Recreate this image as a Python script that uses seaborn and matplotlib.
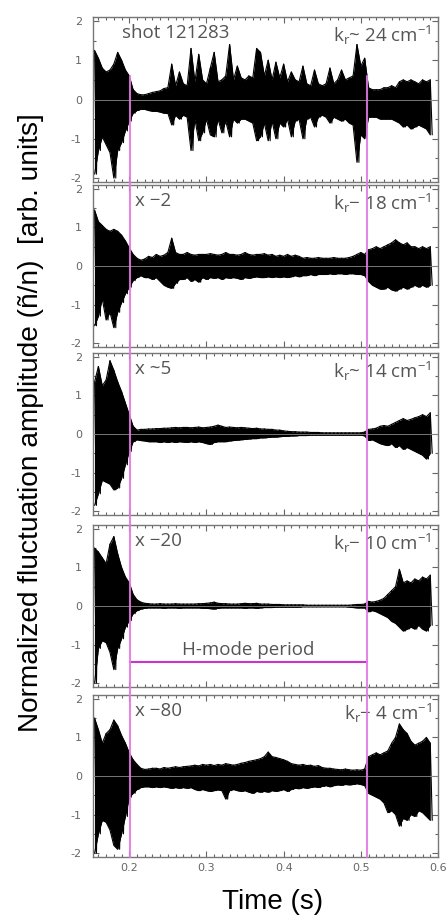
import numpy as np
import pandas as pd
import matplotlib
matplotlib.use("Agg")
import matplotlib.pyplot as plt
from matplotlib.lines import Line2D
from matplotlib.ticker import MultipleLocator
import seaborn as sns

# envelope of each reflectometer channel, every 5 ms from 0.155 s
t_start = 0.155
t_step = 0.005

upper_24 = [1.25, 1.05, 0.8, 0.7, 0.75, 0.9, 1.2, 1.0,
            0.75, 0.6, 0.25, 0.15, 0.12, 0.12, 0.15, 0.18,
            0.2, 0.22, 0.28, 0.3, 0.9, 0.35, 0.7, 0.4,
            0.35, 1.3, 0.45, 1.15, 0.5, 0.4, 0.8, 1.2,
            0.45, 0.5, 0.6, 1.4, 0.5, 0.85, 0.55, 0.5,
            0.6, 0.55, 1.3, 1.2, 0.6, 1.0, 0.5, 0.95,
            0.55, 0.9, 0.45, 0.7, 0.5, 0.45, 0.85, 0.4,
            0.35, 0.75, 0.4, 0.35, 0.4, 0.8, 0.4, 0.5,
            0.75, 0.5, 0.55, 0.6, 1.4, 0.85, 1.05, 0.3,
            0.25, 0.25, 0.25, 0.3, 0.3, 0.35, 0.3, 0.45,
            0.5, 0.45, 0.5, 0.45, 0.4, 0.5, 0.45, 0.5]
lower_24 = [-1.9, -1.3, -0.95, -1.15, -1.35, -2.0, -1.3, -1.1,
            -0.8, -0.55, -0.35, -0.28, -0.25, -0.25, -0.28, -0.3,
            -0.3, -0.32, -0.35, -0.35, -0.65, -0.4, -0.5, -0.4,
            -0.45, -1.3, -0.5, -1.05, -0.85, -0.5, -0.9, -0.95,
            -0.5, -0.85, -0.55, -0.95, -0.5, -0.6, -0.5, -0.5,
            -0.55, -0.6, -1.05, -0.95, -0.6, -1.05, -0.55, -1.0,
            -0.6, -0.7, -0.5, -0.95, -0.55, -0.5, -1.0, -0.5,
            -0.45, -0.7, -0.45, -0.4, -0.45, -0.6, -0.45, -0.5,
            -0.55, -0.5, -0.6, -0.65, -1.6, -0.9, -1.0, -0.45,
            -0.45, -0.45, -0.5, -0.5, -0.5, -0.5, -0.55, -0.6,
            -0.7, -0.65, -0.75, -0.7, -0.65, -0.7, -0.75, -0.9]

upper_18 = [1.45, 1.15, 1.05, 0.95, 0.9, 0.95, 0.9, 0.8,
            0.65, 0.47, 0.3, 0.2, 0.15, 0.18, 0.25, 0.22,
            0.3, 0.25, 0.28, 0.35, 0.72, 0.35, 0.3, 0.3,
            0.35, 0.3, 0.28, 0.3, 0.3, 0.3, 0.32, 0.3,
            0.28, 0.3, 0.35, 0.3, 0.3, 0.28, 0.3, 0.35,
            0.3, 0.28, 0.3, 0.3, 0.32, 0.28, 0.3, 0.25,
            0.28, 0.25, 0.3, 0.25, 0.28, 0.25, 0.2, 0.22,
            0.2, 0.2, 0.22, 0.2, 0.2, 0.2, 0.22, 0.2,
            0.2, 0.2, 0.22, 0.25, 0.3, 0.35, 0.3, 0.42,
            0.45, 0.5, 0.45, 0.5, 0.55, 0.6, 0.68, 0.6,
            0.55, 0.6, 0.5, 0.5, 0.45, 0.5, 0.45, 0.5]
lower_18 = [-1.55, -1.3, -0.85, -1.4, -1.2, -1.6, -1.2, -0.95,
            -0.72, -0.55, -0.38, -0.3, -0.25, -0.3, -0.3, -0.35,
            -0.3, -0.4, -0.5, -0.55, -0.58, -0.45, -0.35, -0.35,
            -0.3, -0.4, -0.35, -0.42, -0.3, -0.35, -0.3, -0.32,
            -0.3, -0.35, -0.3, -0.32, -0.3, -0.32, -0.35, -0.3,
            -0.32, -0.3, -0.28, -0.3, -0.3, -0.28, -0.3, -0.28,
            -0.3, -0.28, -0.3, -0.28, -0.25, -0.28, -0.25, -0.25,
            -0.22, -0.25, -0.22, -0.22, -0.22, -0.2, -0.22, -0.2,
            -0.2, -0.22, -0.2, -0.2, -0.22, -0.22, -0.25, -0.4,
            -0.5, -0.55, -0.6, -0.6, -0.55, -0.62, -0.65, -0.6,
            -0.55, -0.6, -0.55, -0.5, -0.55, -0.5, -0.55, -0.5]

upper_14 = [1.35, 1.75, 1.25, 1.4, 1.9, 1.65, 1.35, 1.1,
            0.8, 0.5, 0.2, 0.1, 0.12, 0.12, 0.13, 0.13,
            0.14, 0.14, 0.15, 0.15, 0.16, 0.17, 0.16, 0.17,
            0.17, 0.16, 0.17, 0.18, 0.16, 0.17, 0.18, 0.2,
            0.23, 0.2, 0.17, 0.18, 0.17, 0.16, 0.17, 0.16,
            0.15, 0.14, 0.15, 0.13, 0.13, 0.12, 0.12, 0.1,
            0.1, 0.08, 0.07, 0.06, 0.06, 0.05, 0.05, 0.05,
            0.04, 0.04, 0.04, 0.03, 0.03, 0.03, 0.03, 0.03,
            0.03, 0.03, 0.03, 0.03, 0.03, 0.03, 0.05, 0.12,
            0.13, 0.15, 0.2, 0.22, 0.2, 0.25, 0.3, 0.35,
            0.4, 0.35, 0.38, 0.42, 0.45, 0.5, 0.45, 0.55]
lower_14 = [-1.85, -1.55, -1.2, -1.25, -1.3, -1.45, -1.4, -1.15,
            -0.8, -0.45, -0.2, -0.15, -0.17, -0.18, -0.2, -0.2,
            -0.2, -0.22, -0.2, -0.22, -0.2, -0.22, -0.2, -0.21,
            -0.22, -0.2, -0.22, -0.2, -0.22, -0.25, -0.27, -0.22,
            -0.2, -0.2, -0.2, -0.18, -0.17, -0.16, -0.15, -0.14,
            -0.13, -0.12, -0.12, -0.1, -0.1, -0.09, -0.08, -0.08,
            -0.07, -0.06, -0.06, -0.05, -0.05, -0.04, -0.04, -0.04,
            -0.03, -0.03, -0.03, -0.03, -0.03, -0.03, -0.03, -0.03,
            -0.03, -0.03, -0.03, -0.03, -0.03, -0.03, -0.05, -0.17,
            -0.15, -0.2, -0.25, -0.28, -0.3, -0.25, -0.35, -0.3,
            -0.4, -0.35, -0.4, -0.45, -0.5, -0.55, -0.65, -0.5]

upper_10 = [1.5, 1.4, 1.25, 1.1, 1.6, 1.8, 1.35, 1.0,
            0.75, 0.6, 0.3, 0.16, 0.1, 0.07, 0.06, 0.05,
            0.05, 0.06, 0.05, 0.05, 0.05, 0.06, 0.05, 0.05,
            0.05, 0.05, 0.05, 0.06, 0.06, 0.07, 0.08, 0.1,
            0.07, 0.06, 0.06, 0.05, 0.05, 0.05, 0.06, 0.07,
            0.06, 0.06, 0.07, 0.05, 0.05, 0.05, 0.04, 0.04,
            0.04, 0.03, 0.03, 0.03, 0.03, 0.03, 0.03, 0.02,
            0.02, 0.02, 0.02, 0.02, 0.02, 0.02, 0.02, 0.02,
            0.02, 0.02, 0.02, 0.03, 0.04, 0.04, 0.05, 0.12,
            0.1, 0.12, 0.15, 0.2, 0.3, 0.4, 0.5, 0.95,
            0.6, 0.65, 0.6, 0.7, 0.65, 0.75, 0.7, 0.8]
lower_10 = [-2.0, -1.1, -0.9, -0.95, -1.2, -1.65, -1.1, -0.85,
            -0.55, -0.38, -0.2, -0.12, -0.08, -0.06, -0.05, -0.05,
            -0.05, -0.05, -0.06, -0.05, -0.05, -0.05, -0.06, -0.05,
            -0.05, -0.05, -0.05, -0.05, -0.06, -0.06, -0.07, -0.08,
            -0.06, -0.05, -0.05, -0.05, -0.05, -0.05, -0.05, -0.06,
            -0.05, -0.05, -0.06, -0.05, -0.04, -0.04, -0.04, -0.03,
            -0.03, -0.03, -0.03, -0.03, -0.03, -0.03, -0.02, -0.02,
            -0.02, -0.02, -0.02, -0.02, -0.02, -0.02, -0.02, -0.02,
            -0.02, -0.02, -0.03, -0.04, -0.05, -0.05, -0.05, -0.15,
            -0.12, -0.15, -0.2, -0.25, -0.3, -0.4, -0.45, -0.55,
            -0.65, -0.6, -0.55, -0.6, -0.5, -0.6, -0.65, -0.5]

upper_4 = [1.5, 1.2, 0.85, 1.1, 1.2, 1.45, 1.3, 1.05,
           0.85, 0.6, 0.42, 0.3, 0.2, 0.17, 0.18, 0.2,
           0.2, 0.18, 0.22, 0.2, 0.22, 0.24, 0.22, 0.24,
           0.25, 0.26, 0.28, 0.26, 0.3, 0.28, 0.3, 0.27,
           0.3, 0.28, 0.32, 0.3, 0.28, 0.3, 0.33, 0.35,
           0.38, 0.4, 0.42, 0.45, 0.5, 0.62, 0.5, 0.48,
           0.45, 0.42, 0.38, 0.32, 0.3, 0.28, 0.3, 0.27,
           0.28, 0.25, 0.27, 0.22, 0.2, 0.2, 0.18, 0.17,
           0.16, 0.18, 0.16, 0.15, 0.16, 0.15, 0.18, 0.5,
           0.55, 0.6, 0.55, 0.6, 0.65, 0.85, 1.0, 1.35,
           1.2, 1.1, 0.9, 0.8, 0.85, 0.9, 1.0, 0.85]
lower_4 = [-2.0, -1.5, -1.15, -1.2, -1.4, -1.8, -1.9, -1.5,
           -1.05, -0.55, -0.45, -0.35, -0.3, -0.28, -0.28, -0.3,
           -0.28, -0.3, -0.28, -0.3, -0.32, -0.3, -0.32, -0.3,
           -0.32, -0.3, -0.35, -0.38, -0.35, -0.38, -0.4, -0.38,
           -0.36, -0.38, -0.6, -0.38, -0.35, -0.38, -0.4, -0.38,
           -0.42, -0.45, -0.4, -0.42, -0.4, -0.42, -0.38, -0.4,
           -0.38, -0.35, -0.4, -0.35, -0.32, -0.33, -0.3, -0.32,
           -0.3, -0.28, -0.3, -0.27, -0.25, -0.28, -0.25, -0.23,
           -0.24, -0.22, -0.23, -0.22, -0.2, -0.22, -0.25, -0.45,
           -0.5, -0.55, -0.6, -0.7, -0.95, -0.9, -1.0, -1.3,
           -1.1, -1.15, -1.0, -1.05, -0.9, -0.95, -1.05, -1.15]

panel_upper = [upper_24, upper_18, upper_14, upper_10, upper_4]
panel_lower = [lower_24, lower_18, lower_14, lower_10, lower_4]
panel_kr = ["24", "18", "14", "10", "4"]
panel_tag = ["shot 121283", "x \u22122", "x ~5", "x \u221220", "x \u221280"]
kr_sep = ["~", "\u2212", "~", "\u2212", "\u2212"]

h_mode_start = 0.201
h_mode_end = 0.508
x_ticks = [0.2, 0.3, 0.4, 0.5, 0.6]
y_ticks = [-2, -1, 0, 1, 2]

sns.set_style("ticks")
plt.rcParams["font.family"] = ["Liberation Sans", "DejaVu Sans"]
plt.rcParams["mathtext.default"] = "regular"
plt.rcParams["axes.unicode_minus"] = False

W, H = 446, 918
fig = plt.figure(figsize=(W / 100, H / 100), dpi=100)

# panel frames in pixels (top, bottom)
frames = [(17, 182), (185, 347), (353, 515), (525, 687), (695, 857)]
ax_left, ax_right = 93, 438
gray = "#555555"
tag_font = ["Open Sans", "DejaVu Sans"]

axes = []
for i, (top, bot) in enumerate(frames):
    ax = fig.add_axes([ax_left / W, 1 - bot / H, (ax_right - ax_left) / W, (bot - top) / H])
    up = np.asarray(panel_upper[i])
    lo = np.asarray(panel_lower[i])
    assert len(up) == len(lo) == 88
    t = t_start + t_step * np.arange(len(up))
    # signal drawn as a zigzag between its upper and lower envelope, filled solid
    tz = np.empty(2 * len(t))
    yz = np.empty(2 * len(t))
    tz[0::2] = t
    tz[1::2] = t + t_step / 2
    yz[0::2] = up
    yz[1::2] = lo
    df = pd.DataFrame({"time": tz, "amp": yz})
    ax.fill_between(t, lo, up, color="black", lw=0, zorder=2)
    sns.lineplot(data=df, x="time", y="amp", sort=False, estimator=None,
                 color="black", lw=0.8, ax=ax, zorder=2)
    env = pd.DataFrame({"time": t, "upper": up, "lower": lo})
    sns.lineplot(data=env, x="time", y="upper", color="black", lw=0.8, ax=ax, zorder=2)
    sns.lineplot(data=env, x="time", y="lower", color="black", lw=0.8, ax=ax, zorder=2)
    ax.axhline(0, color="#8a8a8a", lw=0.6, zorder=3)

    ax.set_xlim(0.153, 0.6)
    ax.set_ylim(-2.1, 2.1)
    ax.set_xlabel("")
    ax.set_ylabel("")
    ax.set_xticks(x_ticks)
    ax.set_yticks(y_ticks)
    ax.xaxis.set_minor_locator(MultipleLocator(0.01))
    ax.yaxis.set_minor_locator(MultipleLocator(0.5))
    ax.tick_params(which="both", direction="in", top=True, right=True,
                   colors="#666666", labelsize=8, width=0.8)
    ax.tick_params(which="major", length=4)
    ax.tick_params(which="minor", length=2)
    ax.tick_params(axis="y", pad=8)
    ax.tick_params(axis="x", pad=4)
    for lab in ax.get_yticklabels() + ax.get_xticklabels():
        lab.set_family(["DejaVu Sans"])
    if i < 4:
        ax.set_xticklabels([])
    for sp in ax.spines.values():
        sp.set_color("#777777")
        sp.set_linewidth(1.0)

    tag_x = 0.19 if i == 0 else 0.207
    ax.text(tag_x, 1.68, panel_tag[i], ha="left", va="center",
            fontsize=13.5, color=gray, family=tag_font)
    ax.text(0.592, 1.62, "k$_{r}$" + kr_sep[i] + " " + panel_kr[i] + " cm$^{-1}$",
            ha="right", va="center", fontsize=13.5, color=gray, family=tag_font)
    axes.append(ax)

# H-mode marker in the fourth panel
ax4 = axes[3]
ax4.plot([h_mode_start, h_mode_end], [-1.45, -1.45], color="#cc33cc", lw=1.5, zorder=5)
ax4.text((h_mode_start + h_mode_end) / 2, -1.14, "H-mode period", ha="center",
         va="center", fontsize=13.5, color=gray, family=tag_font)

# transition lines running through all panels
inv = fig.transFigure.inverted()
for tx in [h_mode_start, h_mode_end]:
    x0, y0 = inv.transform(axes[0].transData.transform((tx, 0.6)))
    _, y1 = inv.transform(axes[-1].transAxes.transform((0, 0)))
    fig.add_artist(Line2D([x0, x0], [y0, y1], transform=fig.transFigure,
                          color="#e27ae2", lw=1.5, alpha=0.9, zorder=10))

fig.text(31 / W, 1 - 423 / H, "Normalized fluctuation amplitude (\u00f1/n)  [arb. units]",
         rotation=90, ha="center", va="center", fontsize=20.2, color="black")
fig.text(273 / W, 1 - 902 / H, "Time (s)", ha="center", va="center",
         fontsize=20, color="black")

fig.savefig("out.png", dpi=100)
